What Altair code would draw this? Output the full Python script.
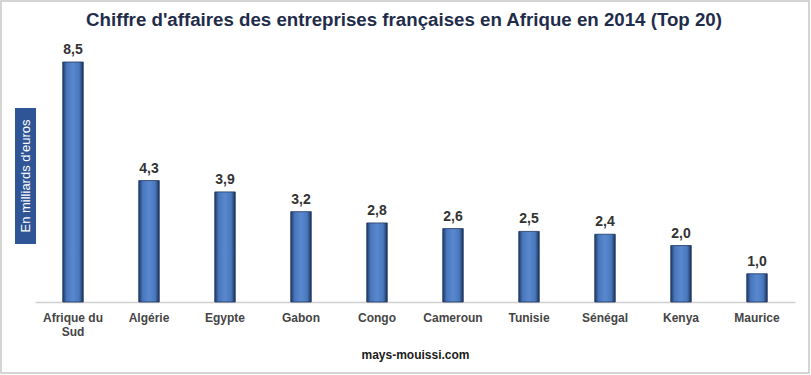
import altair as alt
import pandas as pd

countries = ["Afrique du Sud", "Algérie", "Egypte", "Gabon", "Congo",
             "Cameroun", "Tunisie", "Sénégal", "Kenya", "Maurice"]
values = [8.5, 4.3, 3.9, 3.2, 2.8, 2.6, 2.5, 2.4, 2.0, 1.0]
labels = ["8,5", "4,3", "3,9", "3,2", "2,8", "2,6", "2,5", "2,4", "2,0", "1,0"]
title_text = "Chiffre d'affaires des entreprises françaises en Afrique en 2014 (Top 20)"

df = pd.DataFrame({"pays": countries, "ca": values, "lab": labels})

W, H = 760, 262
FONT = "Liberation Sans"

xenc = alt.X("pays:N", sort=countries,
             scale=alt.Scale(paddingInner=0.73, paddingOuter=0.365),
             axis=alt.Axis(title="mays-mouissi.com", titleFont=FONT, titleFontSize=12,
                           titleFontWeight="bold", titleColor="#1a1a1a", titlePadding=12,
                           labelFont=FONT, labelFontSize=12, labelFontWeight="bold",
                           labelColor="#454545", labelAngle=0, labelPadding=10,
                           ticks=False, domainColor="#d0d0d0", domainWidth=1.5,
                           labelExpr="datum.label == 'Afrique du Sud' ? ['Afrique du', 'Sud'] : datum.label"))
yenc = alt.Y("ca:Q", scale=alt.Scale(domain=[0, 9.28], nice=False), axis=None)

grad = alt.Gradient(gradient="linear", x1=0, x2=1, y1=0, y2=0,
                    stops=[alt.GradientStop(color="#1f3a68", offset=0),
                           alt.GradientStop(color="#4a78bd", offset=0.2),
                           alt.GradientStop(color="#5a88cf", offset=0.5),
                           alt.GradientStop(color="#4a78bd", offset=0.8),
                           alt.GradientStop(color="#1a3259", offset=1)])

bars = alt.Chart(df).mark_bar(fill=grad, stroke="#1e3560", strokeWidth=0.8).encode(x=xenc, y=yenc)

text = alt.Chart(df).mark_text(dy=-12, font=FONT, fontSize=14, fontWeight="bold",
                               color="#333333").encode(x=alt.X("pays:N", sort=countries), y="ca:Q", text="lab:N")

one = df.head(1)
box = alt.Chart(one).mark_rect(fill="#2f5597").encode(
    x=alt.value(-20), x2=alt.value(1), y=alt.value(68), y2=alt.value(204))
ytitle = alt.Chart(one).mark_text(text="En milliards d'euros", angle=270, font=FONT,
                                  fontSize=13, color="white").encode(
    x=alt.value(-9), y=alt.value(136))

title = alt.Chart(one).mark_text(text=title_text, font=FONT, fontSize=18.7, fontWeight="bold",
                                 color="#1f2d4b").encode(x=alt.value(W / 2 - 11), y=alt.value(-20))

frame = alt.Chart(one).mark_rect(fill=None, stroke="#c8c8c8", strokeWidth=1.5).encode(
    x=alt.value(-34), x2=alt.value(W + 14), y=alt.value(-39), y2=alt.value(H + 71))

chart = alt.layer(frame, bars, text, box, ytitle, title).properties(
    width=W, height=H,
    padding={"left": 35, "top": 40, "right": 16, "bottom": 73},
    autosize="none",
    background="white"
).configure_view(stroke=None)

chart.save("out.html", embed_options={"renderer": "svg", "actions": False})
